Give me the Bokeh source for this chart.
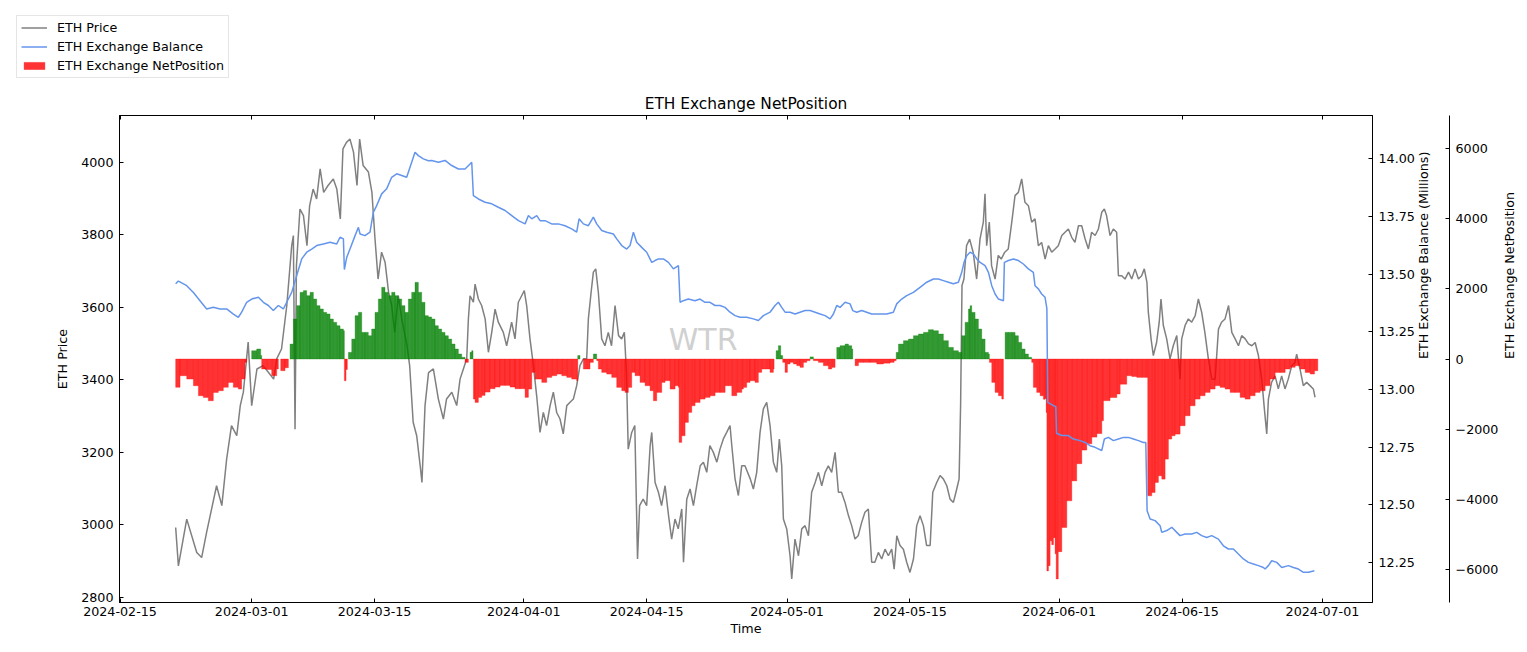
import math
import numpy as np
import pandas as pd
from bokeh.plotting import figure
from bokeh.models import (Range1d, LinearAxis, DatetimeAxis, FixedTicker, DatetimeTickFormatter,
                          NumeralTickFormatter, Legend, LegendItem, Label, Title)
from bokeh.embed import file_html
from bokeh.resources import INLINE

BASE = pd.Timestamp("2024-02-15")

# ---------------- data (day offset from 2024-02-15, value) ----------------
price_pts = [
    (6.34, 2993), (6.65, 2887), (7.6, 3016), (8.74, 2924), (9.3, 2910), (9.87, 2980), (11.0, 3108), (11.6, 3053),
    (12.15, 3182), (12.7, 3274), (13.3, 3246), (13.7, 3329), (14.05, 3366), (14.6, 3504), (15.0, 3329), (15.6, 3430),
    (16.3, 3439), (16.9, 3421), (17.5, 3402), (17.85, 3458), (18.4, 3485), (19.0, 3605), (19.56, 3770), (19.75, 3798),
    (19.94, 3264), (20.1, 3715), (20.5, 3871), (20.9, 3853), (21.3, 3770), (21.6, 3880), (22.0, 3926), (22.4, 3899),
    (22.8, 3982), (23.2, 3917), (23.7, 3936), (24.3, 3954), (24.7, 3926), (25.1, 3844), (25.4, 4037), (25.8, 4055),
    (26.2, 4064), (26.6, 4028), (27.0, 3936), (27.3, 4064), (27.7, 3991), (28.3, 3973), (28.7, 3917), (29.05, 3789),
    (29.4, 3678), (29.8, 3752), (30.2, 3724), (30.6, 3641), (30.95, 3605), (31.3, 3531), (31.7, 3632), (32.1, 3568),
    (32.7, 3494), (33.0, 3439), (33.4, 3283), (33.8, 3246), (34.2, 3163), (34.4, 3117), (34.75, 3329),
    (35.15, 3420), (35.7, 3430), (36.27, 3347), (36.84, 3292), (37.2, 3347), (37.8, 3366), (38.36, 3329), (38.74, 3402),
    (39.12, 3430), (39.5, 3458), (39.69, 3568), (39.88, 3632), (40.26, 3614), (40.45, 3664), (40.83, 3623), (41.2, 3605),
    (41.6, 3568), (41.97, 3476), (42.35, 3531), (42.73, 3595), (43.1, 3559), (43.67, 3531), (44.05, 3494), (44.62, 3559),
    (45.0, 3513), (45.38, 3614), (45.76, 3632), (46.06, 3646), (46.33, 3605), (46.71, 3513), (47.1, 3439), (47.47, 3356),
    (47.85, 3255), (48.23, 3310), (48.6, 3274), (49.0, 3329), (49.37, 3366), (49.75, 3310), (50.13, 3292), (50.5, 3251),
    (50.9, 3329), (51.27, 3338), (51.65, 3347), (52.03, 3384), (52.4, 3439), (52.8, 3458), (53.17, 3458), (53.36, 3568),
    (53.67, 3641), (53.93, 3697), (54.2, 3706), (54.5, 3641), (54.88, 3513), (55.25, 3494), (55.63, 3531), (56.0, 3494),
    (56.4, 3605), (56.8, 3522), (57.15, 3513), (57.46, 3531), (57.7, 3421), (57.9, 3209), (58.3, 3255), (58.65, 3274),
    (58.96, 2906), (59.2, 3053), (59.6, 3071), (60.0, 3053), (60.4, 3219), (60.58, 3255), (60.96, 3117), (61.34, 3090),
    (61.7, 3053), (62.1, 3108), (62.5, 3025), (62.85, 2961), (63.23, 3016), (63.6, 2989), (64.0, 3044), (64.2, 2897),
    (64.57, 3071), (64.95, 3099), (65.33, 3053), (65.7, 3108), (66.1, 3163), (66.47, 3173), (66.85, 3145), (67.2, 3219),
    (67.6, 3200), (68.0, 3173), (68.36, 3209), (68.74, 3237), (69.12, 3255), (69.5, 3274), (69.7, 3219), (70.07, 3127),
    (70.45, 3081), (70.83, 3163),
    (71.2, 3163), (71.8, 3127), (72.16, 3099), (72.54, 3145), (72.92, 3255), (73.3, 3320), (73.68, 3338), (74.06, 3274),
    (74.44, 3173), (74.82, 3145), (75.12, 3237), (75.39, 3163), (75.58, 3016), (75.96, 2989), (76.34, 2915), (76.53, 2851),
    (76.9, 2961), (77.3, 2915), (77.67, 2989), (78.05, 2998), (78.43, 2970), (78.8, 3090), (79.2, 3117), (79.57, 3145),
    (79.95, 3108), (80.33, 3145), (80.7, 3163), (81.08, 3145), (81.47, 3200), (81.85, 3090), (82.2, 3090), (82.6, 3062),
    (83.0, 3025), (83.36, 2998), (83.74, 2961), (84.1, 2970), (84.5, 3007), (84.87, 3035), (85.26, 3044), (85.64, 2897),
    (86.0, 2897), (86.4, 2924), (86.78, 2906), (87.16, 2933), (87.54, 2915), (87.92, 2933), (88.2, 2878), (88.5, 2970),
    (88.87, 2943), (89.25, 2933), (89.63, 2897), (90.0, 2869), (90.4, 2906), (90.77, 2998), (91.15, 3025), (91.53, 2998),
    (91.9, 2943), (92.3, 2943), (92.6, 3090), (93.05, 3117), (93.43, 3136), (93.8, 3127), (94.2, 3108), (94.57, 3071),
    (94.95, 3062), (95.33, 3099), (95.6, 3127), (95.77, 3329), (95.93, 3660), (96.15, 3678), (96.45, 3770), (96.8, 3788),
    (97.2, 3752), (97.6, 3678), (97.98, 3788), (98.36, 3835), (98.55, 3913), (98.74, 3770), (99.04, 3835), (99.3, 3715),
    (99.7, 3678), (100.06, 3743), (100.4, 3733), (100.8, 3752), (101.2, 3761), (101.6, 3835), (101.97, 3908),
    (102.35, 3917), (102.73, 3954), (103.1, 3890), (103.5, 3880), (103.87, 3835), (104.25, 3844), (104.63, 3770),
    (105.0, 3779), (105.4, 3733), (105.77, 3770), (106.15, 3752), (106.53, 3761),
    (106.9, 3770), (107.3, 3798), (107.67, 3807), (108.05, 3816), (108.43, 3793), (108.8, 3779), (109.2, 3825),
    (109.57, 3825), (109.95, 3789), (110.33, 3761), (110.7, 3807), (111.1, 3798), (111.47, 3816), (111.85, 3862),
    (112.15, 3871), (112.4, 3853), (112.8, 3798), (113.17, 3816), (113.55, 3807), (113.75, 3687), (114.13, 3687),
    (114.5, 3678), (114.9, 3697), (115.27, 3678), (115.65, 3706), (116.03, 3678), (116.4, 3687), (116.7, 3706),
    (117.0, 3669), (117.16, 3586), (117.47, 3513), (117.73, 3467), (118.1, 3503), (118.4, 3559), (118.6, 3623),
    (118.87, 3550), (119.25, 3513), (119.63, 3458), (120.0, 3494), (120.4, 3522), (120.77, 3402), (120.96, 3513),
    (121.35, 3550), (121.72, 3568), (122.1, 3559), (122.5, 3577), (122.86, 3623), (123.24, 3586), (123.6, 3531),
    (124.0, 3458), (124.4, 3402), (124.77, 3402), (125.15, 3540), (125.5, 3559), (125.9, 3568), (126.3, 3605),
    (126.67, 3531), (127.05, 3513), (127.43, 3494), (127.8, 3522), (128.2, 3513), (128.57, 3499), (128.95, 3494),
    (129.33, 3503), (129.7, 3467), (130.08, 3402), (130.38, 3320), (130.65, 3251), (130.84, 3347), (131.2, 3393),
    (131.6, 3411), (131.97, 3375), (132.35, 3411), (132.73, 3375), (133.1, 3402), (133.5, 3439), (133.87, 3448),
    (134.06, 3471), (134.44, 3430), (134.82, 3384), (135.2, 3393), (135.58, 3384), (135.96, 3375), (136.15, 3352),
]

balance_pts = [  # millions of ETH
    (6.34, 13.458), (6.65, 13.47), (7.6, 13.45), (8.36, 13.42), (9.11, 13.385), (9.87, 13.349), (10.63, 13.356),
    (11.39, 13.349), (12.15, 13.349), (12.91, 13.327), (13.48, 13.313), (13.86, 13.335), (14.43, 13.378), (15.0, 13.392),
    (15.76, 13.40), (16.33, 13.378), (16.9, 13.364), (17.47, 13.342), (18.04, 13.364), (18.61, 13.349), (18.99, 13.378),
    (19.56, 13.421), (20.13, 13.494), (20.7, 13.566), (21.27, 13.595), (21.84, 13.609), (22.41, 13.624), (23.17, 13.631),
    (23.93, 13.638), (24.69, 13.631), (25.07, 13.66), (25.45, 13.653), (25.56, 13.52), (25.83, 13.573), (26.2, 13.609),
    (26.78, 13.667), (27.16, 13.703), (27.35, 13.674), (27.9, 13.667), (28.48, 13.682), (28.86, 13.768), (29.24, 13.797),
    (29.81, 13.848), (30.38, 13.87), (30.95, 13.92), (31.52, 13.935), (32.09, 13.928), (32.66, 13.92), (33.04, 13.964),
    (33.61, 14.029), (33.99, 14.014), (34.56, 14.0), (35.13, 13.992),
    (35.51, 13.993), (36.27, 13.985), (37.03, 13.993), (37.79, 13.971), (38.55, 13.956), (39.31, 13.956), (39.88, 13.978),
    (40.07, 13.985), (40.26, 13.84), (40.83, 13.826), (41.59, 13.812), (42.35, 13.805), (43.1, 13.79), (43.87, 13.776),
    (44.63, 13.754), (45.39, 13.732), (46.15, 13.718), (46.53, 13.754), (46.91, 13.74), (47.48, 13.754), (47.86, 13.732),
    (48.43, 13.732), (49.18, 13.718), (49.94, 13.718), (50.7, 13.71), (51.46, 13.696), (52.03, 13.682), (52.3, 13.74),
    (52.79, 13.718), (53.36, 13.71), (53.93, 13.747), (54.31, 13.718), (54.88, 13.689), (55.45, 13.682), (56.21, 13.674),
    (56.59, 13.653), (57.16, 13.624), (57.73, 13.609), (58.11, 13.624), (58.49, 13.682), (58.87, 13.638), (59.44, 13.616),
    (60.01, 13.595), (60.58, 13.551), (60.96, 13.559), (61.34, 13.566), (61.91, 13.566), (62.48, 13.551), (63.05, 13.523),
    (63.62, 13.537), (63.81, 13.378), (64.18, 13.385), (64.75, 13.392), (65.51, 13.385), (66.08, 13.392), (66.65, 13.378),
    (67.22, 13.378), (67.79, 13.364), (68.36, 13.364), (68.93, 13.356), (69.5, 13.335), (70.07, 13.32), (70.64, 13.313),
    (71.4, 13.313), (72.16, 13.306), (72.73, 13.299), (73.3, 13.32), (74.06, 13.335), (74.63, 13.364), (75.01, 13.378),
    (75.39, 13.356), (75.77, 13.335), (76.34, 13.335), (76.91, 13.327), (77.48, 13.335), (78.05, 13.342), (78.62, 13.342),
    (79.19, 13.335), (79.76, 13.327), (80.33, 13.32), (80.9, 13.306), (81.28, 13.327), (81.66, 13.364), (82.04, 13.356),
    (82.61, 13.378), (83.18, 13.371), (83.48, 13.342), (83.94, 13.335), (84.5, 13.342), (85.07, 13.335), (85.64, 13.327),
    (86.4, 13.327), (87.35, 13.327), (88.11, 13.335), (88.49, 13.371), (89.06, 13.392), (89.63, 13.407), (90.39, 13.421),
    (91.15, 13.443), (91.91, 13.465), (92.67, 13.479), (93.24, 13.479), (93.81, 13.472), (94.38, 13.465), (94.95, 13.458),
    (95.52, 13.465), (95.9, 13.508), (96.16, 13.551), (96.47, 13.58), (96.85, 13.595), (97.23, 13.588), (97.61, 13.566),
    (97.99, 13.551), (98.56, 13.537), (98.94, 13.508), (99.32, 13.45), (99.7, 13.414), (100.08, 13.392), (100.65, 13.385),
    (100.76, 13.551), (101.22, 13.559), (101.79, 13.566), (102.36, 13.559), (102.92, 13.544), (103.49, 13.523),
    (104.06, 13.508), (104.25, 13.45), (104.63, 13.436), (105.01, 13.414), (105.39, 13.4), (105.6, 13.35), (105.7, 12.944),
    (106.35, 12.93), (106.62, 12.925), (106.7, 12.81),
    (107.29, 12.80), (108.05, 12.80), (108.62, 12.785), (109.38, 12.778), (109.95, 12.77), (110.52, 12.756),
    (111.09, 12.749), (111.85, 12.735), (112.15, 12.785), (112.61, 12.792), (113.18, 12.778), (113.75, 12.785),
    (114.32, 12.792), (114.89, 12.792), (115.46, 12.785), (116.03, 12.778), (116.6, 12.77), (116.87, 12.77),
    (117.02, 12.474), (117.36, 12.438), (117.93, 12.431), (118.5, 12.409), (118.69, 12.38), (119.26, 12.388),
    (119.83, 12.402), (120.4, 12.38), (120.77, 12.366), (121.34, 12.373), (122.1, 12.373), (122.67, 12.38),
    (123.24, 12.366), (123.81, 12.358), (124.38, 12.366), (125.14, 12.351), (125.71, 12.322), (126.28, 12.308),
    (126.85, 12.308), (127.42, 12.286), (127.99, 12.265), (128.56, 12.25), (129.13, 12.243), (129.7, 12.236),
    (130.27, 12.228), (130.46, 12.221), (130.84, 12.236), (131.22, 12.257), (131.79, 12.25), (132.36, 12.228),
    (133.12, 12.236), (133.69, 12.228), (134.26, 12.221), (134.83, 12.207), (135.4, 12.207), (136.08, 12.214),
]

netpos_pts = [
    (6.34, -810), (6.84, -478), (7.6, -573), (8.36, -763), (8.93, -1049), (9.49, -1096), (10.06, -1192), (10.63, -954),
    (11.2, -906), (11.77, -810), (12.34, -668), (12.91, -810), (13.48, -858), (13.86, -573), (14.24, -96), (14.43, 0),
    (15.0, 237), (15.57, 285), (16.03, 100), (16.14, -286), (16.71, -300), (17.28, -477), (17.85, -286), (18.04, 0),
    (18.31, -334), (18.8, -250), (19.18, 0), (19.37, 427), (19.75, 1142), (20.13, 1523), (20.51, 1904), (20.89, 1952),
    (21.27, 1808), (21.65, 1904), (22.03, 1713), (22.41, 1523), (22.79, 1428), (23.17, 1332), (23.55, 1285),
    (23.93, 1142), (24.31, 1047), (24.69, 951), (25.07, 856), (25.45, 808), (25.56, -620), (25.75, -300), (25.9, 0),
    (26.02, 190), (26.4, 570), (26.78, 1237), (27.16, 1332), (27.54, 761), (27.92, 761), (28.29, 665), (28.67, 856),
    (29.05, 1332), (29.43, 1713), (29.81, 2047), (30.19, 1904), (30.57, 1808), (30.95, 1904), (31.33, 1808),
    (31.71, 1713), (32.09, 1523), (32.47, 1332), (32.85, 1713), (33.23, 1904), (33.61, 2189), (33.99, 1904),
    (34.37, 1618), (34.75, 1237), (35.13, 1200), (35.51, 1142), (35.89, 951), (36.27, 856), (36.65, 761), (37.03, 665),
    (37.41, 570), (37.79, 427), (38.17, 285), (38.55, 142), (38.93, 48), (39.31, -96), (39.69, 0), (39.88, 190),
    (40.07, 237), (40.22, 0), (40.26, -1144), (40.45, -1240), (40.83, -1096), (41.21, -1040), (41.59, -944),
    (42.16, -849), (42.73, -801), (43.3, -754), (43.87, -754), (44.44, -801), (45.0, -849), (45.58, -849),
    (46.15, -1096), (46.53, -858), (46.91, -382), (47.29, -573), (47.67, -573), (48.05, -668), (48.62, -525),
    (49.19, -477), (49.76, -430), (50.33, -477), (50.9, -525), (51.46, -573), (52.03, -620), (52.15, 100), (52.41, 0),
    (52.79, -286), (53.17, -286), (53.55, -96), (53.93, 142), (54.31, -48), (54.5, -286), (54.88, -382), (55.45, -430),
    (56.02, -525), (56.59, -810), (57.16, -906), (57.54, -954), (57.92, -810), (58.3, -382), (58.68, -477),
    (59.25, -668), (59.82, -763), (60.39, -906), (60.77, -1192), (61.15, -954), (61.72, -668), (62.1, -620),
    (62.67, -858), (63.24, -763), (63.62, -810), (63.7, -2381), (64.0, -2191), (64.38, -1810), (64.76, -1525),
    (65.14, -1335), (65.52, -1240), (66.09, -1144), (66.66, -1096), (67.23, -1049), (67.8, -954), (68.37, -954),
    (68.94, -763), (69.32, -763), (69.7, -1049), (70.27, -954), (70.84, -858),
    (71.02, -810), (71.4, -668), (71.78, -620), (72.35, -668), (72.73, -382), (73.11, -286), (73.68, -286),
    (74.06, -382), (74.44, -286), (74.52, 0), (74.75, 237), (75.01, 380), (75.28, 100), (75.5, -96), (75.77, -382),
    (76.04, -143), (76.34, -96), (76.72, -143), (77.1, -191), (77.48, -239), (77.86, -96), (78.24, -48), (78.62, 60),
    (79.0, -48), (79.57, -96), (80.14, -191), (80.71, -286), (81.09, -239), (81.47, 0), (81.66, 332), (82.04, 380),
    (82.61, 427), (82.99, 380), (83.37, 285), (83.48, 0), (83.75, -191), (84.13, -96), (84.7, -96), (85.46, -96),
    (86.22, -143), (86.98, -120), (87.74, -96), (88.2, -48), (88.43, 190), (88.69, 427), (89.26, 523), (89.83, 570),
    (90.4, 665), (90.97, 713), (91.54, 761), (92.1, 837), (92.67, 808), (93.24, 713), (93.81, 523), (94.38, 332),
    (94.95, 237), (95.52, 190), (95.9, 665), (96.28, 1047), (96.66, 1428), (96.85, 1523), (97.04, 1332), (97.42, 1142),
    (97.8, 856), (98.18, 570), (98.56, 190), (98.94, 142), (99.05, -96), (99.32, -668), (99.7, -954), (100.08, -1049),
    (100.46, -1144), (100.65, 0), (100.84, 761), (101.22, 761), (101.6, 761), (101.98, 665), (102.36, 475),
    (102.74, 285), (103.12, 142), (103.5, 48), (103.87, -96),
    (104.06, -810), (104.44, -954), (104.83, -1050), (105.2, -1150), (105.4, -1130), (105.52, -1525), (105.6, -6050),
    (105.78, -5900), (105.97, -5190), (106.15, -5300), (106.35, -5100), (106.54, -5560), (106.66, -6280),
    (106.9, -5500), (107.3, -4810), (107.87, -4050), (108.44, -3480), (109.0, -2990), (109.58, -2600),
    (110.15, -2420), (110.72, -2230), (111.3, -2130), (111.86, -1760), (112.05, -1190), (112.8, -1100),
    (113.57, -1000), (113.95, -720),
    (114.7, -477), (115.27, -500), (115.84, -525), (116.41, -525), (116.87, -525), (117.09, -3906), (117.55, -3811),
    (117.93, -3525), (118.31, -3334), (118.69, -3430), (119.07, -2858), (119.45, -2286), (119.83, -2191),
    (120.21, -2144), (120.78, -1906), (121.35, -1620), (121.92, -1335), (122.49, -1144), (123.06, -1049),
    (123.63, -954), (124.2, -858), (124.77, -763), (125.34, -810), (125.91, -858), (126.48, -954), (127.05, -954),
    (127.62, -1096), (128.19, -1144), (128.76, -1049), (129.33, -954), (129.9, -906), (130.47, -763), (131.04, -573),
    (131.61, -382), (132.18, -382), (132.75, -286), (133.32, -239), (133.89, -191), (134.46, -286), (135.03, -382),
    (135.6, -430), (136.09, -334),
]

date_ticks = ["2024-02-15", "2024-03-01", "2024-03-15", "2024-04-01", "2024-04-15",
              "2024-05-01", "2024-05-15", "2024-06-01", "2024-06-15", "2024-07-01"]
price_ticks = [2800, 3000, 3200, 3400, 3600, 3800, 4000]
balance_ticks = [12.25, 12.50, 12.75, 13.00, 13.25, 13.50, 13.75, 14.00]
netpos_ticks = [-6000, -4000, -2000, 0, 2000, 4000, 6000]

# ---------------- helpers ----------------
def to_dt(days):
    return (BASE + pd.to_timedelta(np.asarray(days, dtype=float), unit="D")).to_numpy()

def to_ms(ts):
    return pd.Timestamp(ts).value / 1e6

DAY = 86400000.0
FONT = "DejaVu Sans"
FS = "12.7px"

price_d, price_v = zip(*price_pts)
bal_d, bal_v = zip(*balance_pts)
net_d = np.array([d for d, _ in netpos_pts])
net_v = np.array([v for _, v in netpos_pts], dtype=float)

LEG_H = 80

p = figure(x_axis_type="datetime", frame_width=1253, frame_height=487,
           x_range=Range1d(to_ms(BASE) - 0.06 * DAY, to_ms(BASE) + 142.7 * DAY),
           y_range=Range1d(2786, 4129),
           output_backend="svg", toolbar_location=None, title=None,
           min_border_left=119, min_border_top=115 - LEG_H, min_border_bottom=42, min_border_right=4,
           background_fill_color="white", border_fill_color="white")
p.extra_y_ranges = {"bal": Range1d(12.076, 14.188), "net": Range1d(-6952, 6952)}
p.grid.visible = False
p.outline_line_color = "black"
p.outline_line_width = 1

PRICE_STYLE = dict(line_color="grey", line_width=1.5)
BAL_STYLE = dict(line_color="cornflowerblue", line_width=1.5)
RED_STYLE = dict(fill_color="red", fill_alpha=0.8, line_color="red", line_alpha=0.8, line_width=0.4)
GREEN_STYLE = dict(fill_color="green", fill_alpha=0.8, line_color="green", line_alpha=0.8, line_width=0.4)

# price line
r_price = p.line(to_dt(price_d), list(price_v), **PRICE_STYLE)

# net position bars (each bar spans from its sample to the next sample)
right_d = np.append(net_d[1:], net_d[-1] + np.median(np.diff(net_d)))
left = to_dt(net_d)
right = to_dt(right_d)
neg = net_v < 0
posm = net_v > 0
p.quad(left=left[posm], right=right[posm], bottom=0, top=net_v[posm], y_range_name="net", **GREEN_STYLE)
r_red = p.quad(left=left[neg], right=right[neg], bottom=net_v[neg], top=0, y_range_name="net", **RED_STYLE)

# balance line
r_bal = p.line(to_dt(bal_d), list(bal_v), y_range_name="bal", **BAL_STYLE)

# ---------------- axes ----------------
def style_axis(ax):
    ax.major_tick_in = 4
    ax.major_tick_out = 0
    ax.minor_tick_in = 0
    ax.minor_tick_out = 0
    ax.axis_line_color = "black"
    ax.major_tick_line_color = "black"
    ax.major_label_text_font = FONT
    ax.major_label_text_font_size = FS
    ax.major_label_text_color = "black"
    ax.axis_label_text_font = FONT
    ax.axis_label_text_font_size = FS
    ax.axis_label_text_font_style = "normal"
    ax.axis_label_text_color = "black"

date_ms = [to_ms(d) for d in date_ticks]

xa = p.xaxis[0]
style_axis(xa)
xa.ticker = FixedTicker(ticks=date_ms)
fmt = "%Y-%m-%d"
xa.formatter = DatetimeTickFormatter(days=fmt, months=fmt, years=fmt, hours=fmt, hourmin=fmt)
xa.axis_label = "Time"
xa.major_label_standoff = 4
xa.axis_label_standoff = 2

ya = p.yaxis[0]
style_axis(ya)
ya.ticker = FixedTicker(ticks=price_ticks)
ya.axis_label = "ETH Price"
ya.major_label_standoff = 6
ya.axis_label_standoff = 8

# tick marks on the top spine (no labels)
top = DatetimeAxis(ticker=FixedTicker(ticks=date_ms), major_label_overrides={t: "" for t in date_ms})
style_axis(top)
top.major_label_text_font_size = "1px"
top.major_label_standoff = 0
p.add_layout(top, "above")

ax_bal = LinearAxis(y_range_name="bal", ticker=FixedTicker(ticks=balance_ticks),
                    formatter=NumeralTickFormatter(format="0.00"),
                    axis_label="ETH Exchange Balance (Millions)")
style_axis(ax_bal)
ax_bal.major_label_standoff = 6
ax_bal.axis_label_standoff = 6
ax_bal.axis_label_orientation = math.pi / 2
p.add_layout(ax_bal, "right")

# invisible spacer so the NetPosition spine sits further right
spacer = LinearAxis(y_range_name="net", ticker=FixedTicker(ticks=[0]), axis_line_color=None,
                    major_tick_out=8, major_tick_in=0, minor_tick_in=0, minor_tick_out=0,
                    major_tick_line_color=None, major_label_standoff=0,
                    major_label_overrides={0: ""}, major_label_text_font_size="1px")
p.add_layout(spacer, "right")

ax_net = LinearAxis(y_range_name="net", ticker=FixedTicker(ticks=netpos_ticks),
                    major_label_overrides={t: str(t).replace("-", "\u2212") for t in netpos_ticks},
                    axis_label="ETH Exchange NetPosition")
style_axis(ax_net)
ax_net.major_label_standoff = 6
ax_net.axis_label_standoff = 8
ax_net.axis_label_orientation = math.pi / 2
p.add_layout(ax_net, "right")

p.add_layout(Title(text="ETH Exchange NetPosition", align="center", text_font=FONT, text_font_size="15.4px",
                   text_font_style="normal", text_color="black", standoff=5), "above")

# watermark
p.add_layout(Label(x=to_ms(BASE) + 66.43 * DAY, y=3511, text="WTR", text_align="center",
                   text_baseline="middle", text_font=FONT, text_font_size="30px", text_color="#d0d0d0"))

# ---------------- legend strip above the plot (separate root, not frame-aligned) ----------------
lf = figure(width=1527, height=LEG_H, min_border=0, toolbar_location=None, output_backend="svg",
            x_axis_location=None, y_axis_location=None, x_range=p.x_range, y_range=p.y_range,
            background_fill_color="white", border_fill_color="white")
lf.grid.visible = False
lf.outline_line_color = None
l_price = lf.line(to_dt(price_d), list(price_v), visible=False, **PRICE_STYLE)
l_bal = lf.line(to_dt(bal_d), list(bal_v), visible=False, **BAL_STYLE)
l_net = lf.quad(left=left[neg], right=right[neg], bottom=net_v[neg], top=0, visible=False, **RED_STYLE)
legend = Legend(items=[LegendItem(label="ETH Price", renderers=[l_price]),
                       LegendItem(label="ETH Exchange Balance", renderers=[l_bal]),
                       LegendItem(label="ETH Exchange NetPosition", renderers=[l_net])],
                location=(16, 2), glyph_width=26, glyph_height=9, label_height=13, spacing=4,
                padding=4, margin=0, label_standoff=10, label_text_font=FONT, label_text_font_size=FS,
                label_text_color="black", border_line_color="#cccccc", border_line_width=1,
                background_fill_color="white", background_fill_alpha=1.0,
                inactive_fill_alpha=0.0)
lf.add_layout(legend)

open("out.html", "w").write(file_html([lf, p], INLINE))
